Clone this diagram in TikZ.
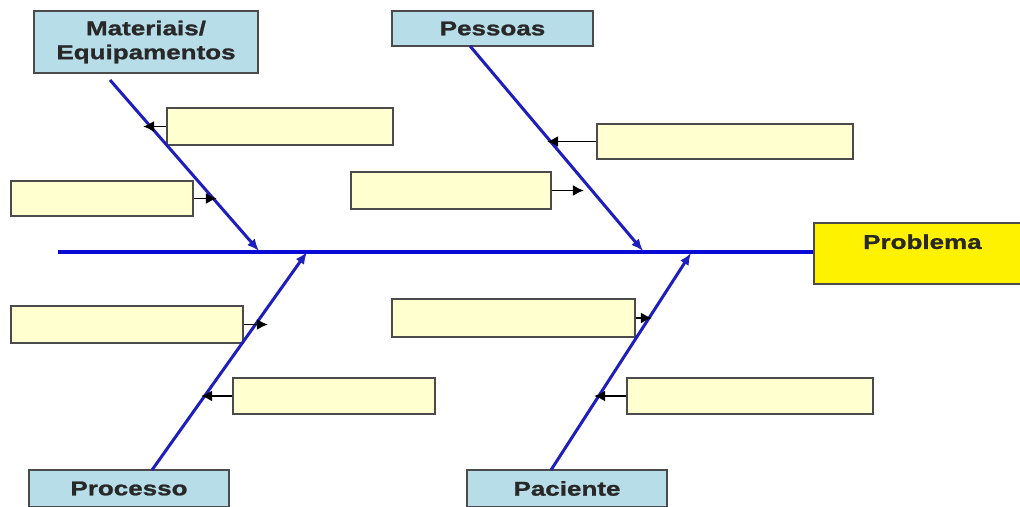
\documentclass[tikz,border=0pt]{standalone}
\usepackage{fontspec}
\setmainfont{Liberation Sans}[FakeStretch=1.3,BoldFeatures={FakeBold=1.2}]
\usetikzlibrary{arrows.meta,calc}
\definecolor{catfill}{RGB}{183,221,232}
\definecolor{causefill}{RGB}{255,255,208}
\definecolor{edgegray}{RGB}{75,75,75}
\definecolor{bone}{RGB}{30,30,190}
\definecolor{spinec}{RGB}{10,10,215}
\definecolor{txt}{RGB}{40,40,40}
\tikzset{
  catbox/.style={draw=edgegray, line width=1.8pt, fill=catfill, inner sep=0pt,
    font=\fontsize{20}{24}\selectfont\bfseries, text=txt, align=center},
  causebox/.style={draw=edgegray, line width=1.8pt, fill=causefill, inner sep=0pt},
  probbox/.style={draw=edgegray, line width=1.8pt, fill=yellow, inner sep=0pt,
    font=\fontsize{20}{24}\selectfont\bfseries, text=txt},
  bonearrow/.style={draw=bone, line width=3pt, -{Latex[length=12pt,width=10pt]}},
  spineline/.style={draw=spinec, line width=4.5pt},
  smallarrow/.style={draw=black, line width=1.8pt, -{Latex[length=11pt,width=11pt]}}
}
\begin{document}
\begin{tikzpicture}[x=1pt,y=-1pt]
\useasboundingbox (0,0) rectangle (1020,506);
\clip (0,0) rectangle (1020,506);
\fill[white] (0,0) rectangle (1020,506);
% category boxes
\node[catbox, minimum width=224pt, minimum height=62pt] (mat) at (146,42) {Materiais/\\Equipamentos};
\node[catbox, minimum width=201pt, minimum height=35pt] (pes) at (492.5,28.5) {Pessoas};
\node[catbox, minimum width=200pt, minimum height=37pt] (proc) at (129,488.5) {Processo};
\node[catbox, minimum width=200pt, minimum height=37pt] (pac) at (567,488.5) {Paciente};
\node[probbox, anchor=north west, minimum width=217pt, text height=26pt, text depth=35pt] (prob) at (813,222) {Problema};
% cause boxes
\node[causebox, minimum width=226pt, minimum height=37pt] (a1) at (280,126.5) {};
\node[causebox, minimum width=182pt, minimum height=35pt] (a2) at (102,198.5) {};
\node[causebox, minimum width=256pt, minimum height=35pt] (b1) at (725,141.5) {};
\node[causebox, minimum width=200pt, minimum height=37pt] (b2) at (451,190.5) {};
\node[causebox, minimum width=232pt, minimum height=37pt] (c1) at (127,324.5) {};
\node[causebox, minimum width=202pt, minimum height=36pt] (c2) at (334,396) {};
\node[causebox, minimum width=243pt, minimum height=38pt] (d1) at (513.5,318) {};
\node[causebox, minimum width=246pt, minimum height=36pt] (d2) at (750,396) {};
% bone coordinates
\coordinate (spL) at (58,252);
\coordinate (matS) at (110,80);
\coordinate (matE) at (259,251);
\coordinate (pesS) at (470,46);
\coordinate (pesE) at (643,251);
\coordinate (procS) at (152,470);
\coordinate (procE) at (307,252);
\coordinate (pacS) at (551,470);
\coordinate (pacE) at (691,253);
% spine
\draw[spineline] (spL) -- (prob.west |- spL);
% bones
\draw[bonearrow] (matS) -- (matE);
\draw[bonearrow] (pesS) -- (pesE);
\draw[bonearrow] (procS) -- (procE);
\draw[bonearrow] (pacS) -- (pacE);
% small arrows
\draw[smallarrow] (a1.west) -- ++(-23,0);
\draw[smallarrow] (a2.east) -- ++(23,0);
\draw[smallarrow] (b1.west) -- ++(-49,0);
\draw[smallarrow] (b2.east) -- ++(32,0);
\draw[smallarrow] (c1.east) -- ++(24,0);
\draw[smallarrow] (c2.west) -- ++(-31,0);
\draw[smallarrow] (d1.east) -- ++(16,0);
\draw[smallarrow] (d2.west) -- ++(-32,0);
\end{tikzpicture}
\end{document}
